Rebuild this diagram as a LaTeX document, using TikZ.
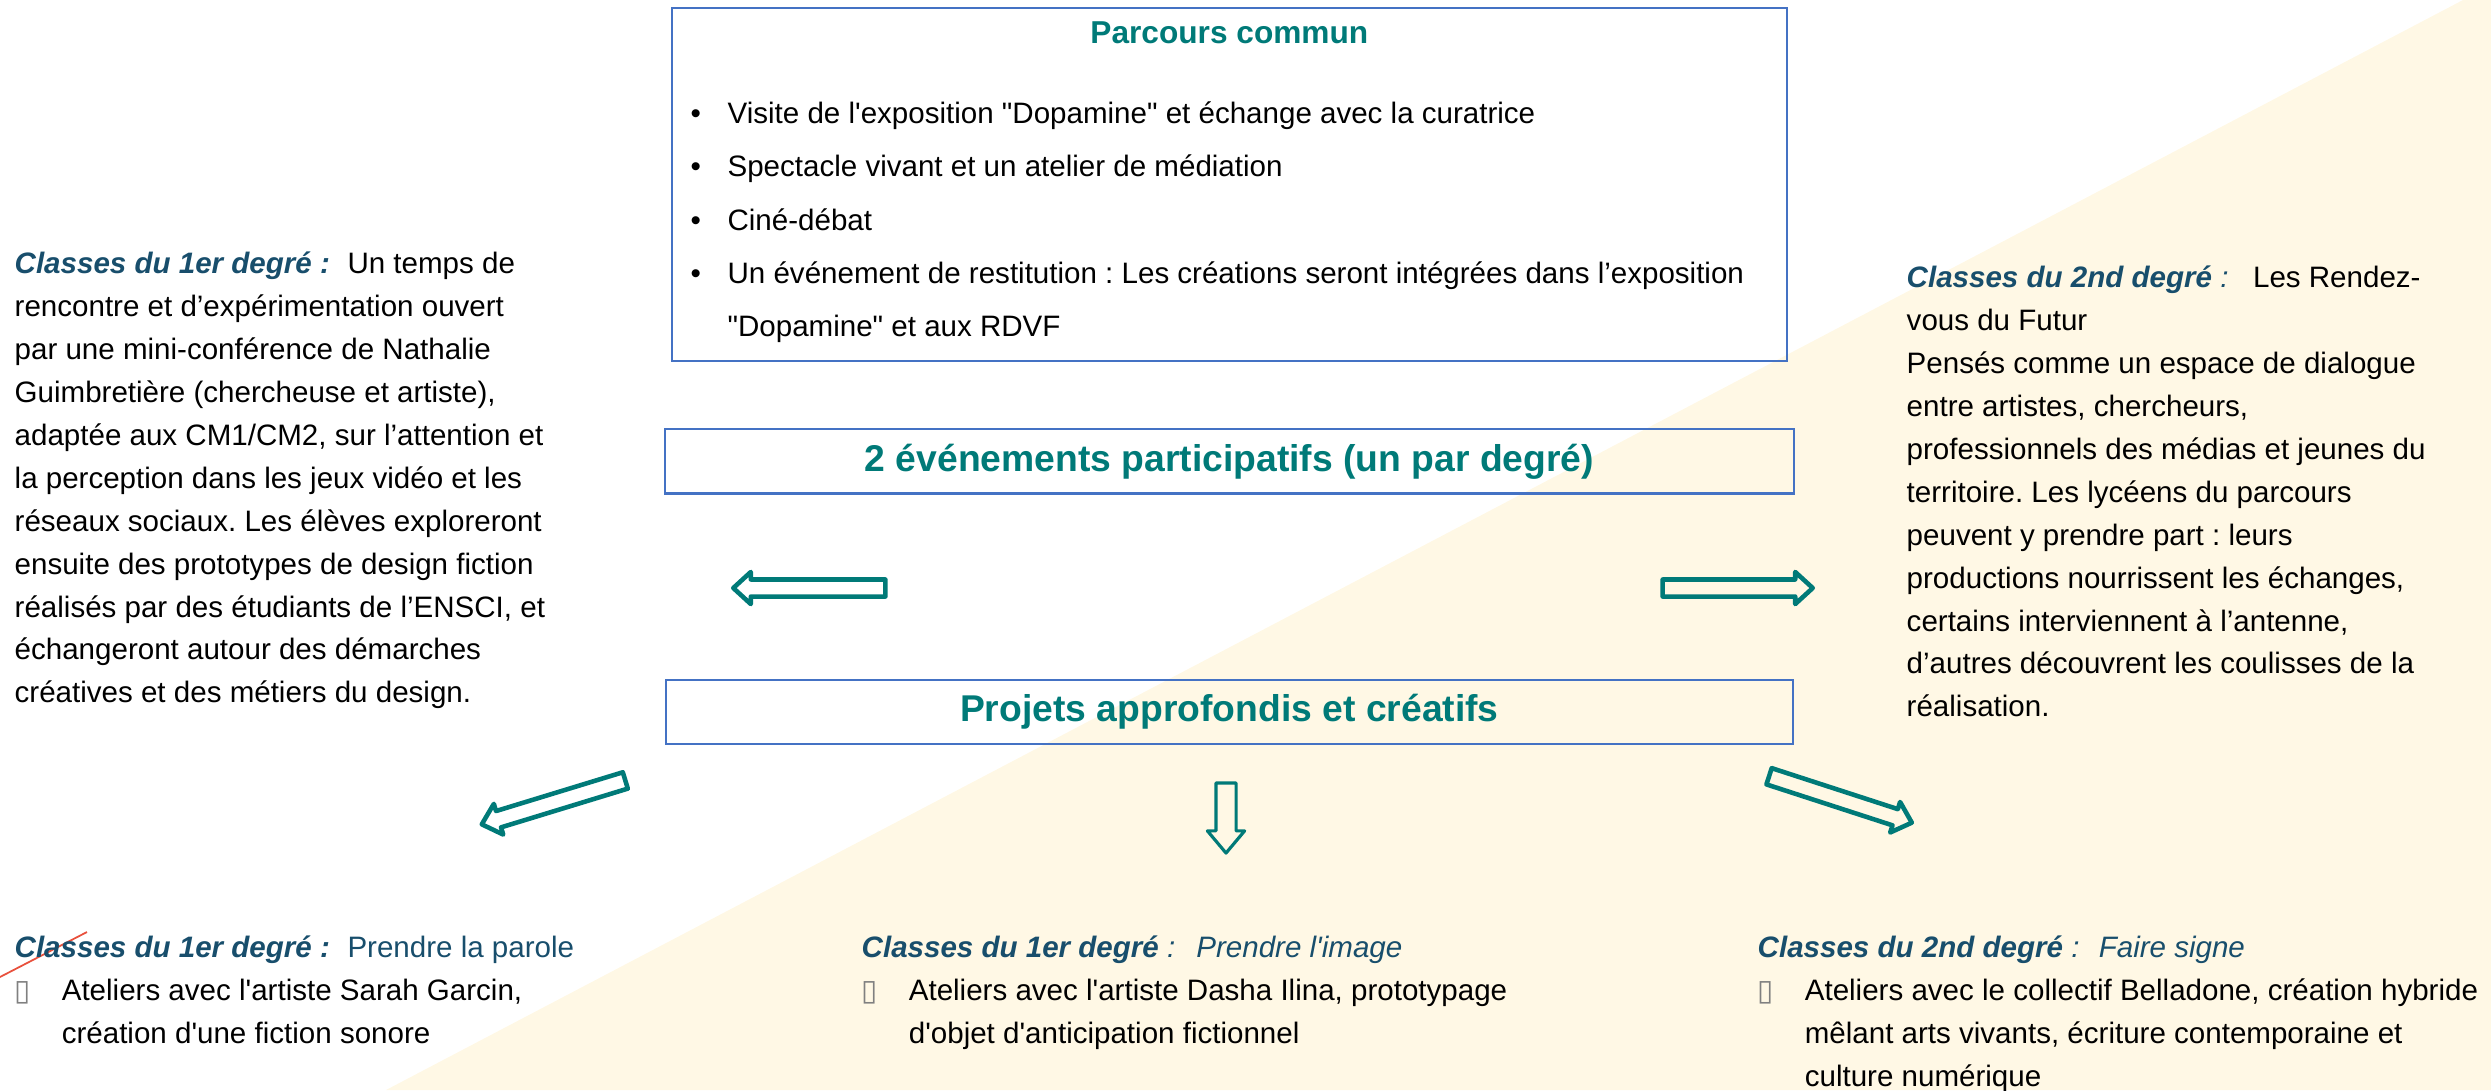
\documentclass[tikz,border=0pt]{standalone}
\usepackage{fontspec}
\setmainfont{Liberation Sans}[Ligatures=TeXOff]
\newfontfamily\glyphfont{DejaVu Sans}
\usepackage{xcolor}
\usetikzlibrary{shapes.arrows, positioning, calc}
\definecolor{titleteal}{RGB}{0,122,120}
\definecolor{headblue}{RGB}{24,78,108}
\definecolor{frameblue}{RGB}{68,114,196}
\definecolor{cream}{RGB}{255,248,229}
\definecolor{slipred}{RGB}{232,80,60}
\frenchspacing
\newcommand{\bodyfont}{\fontsize{8.4}{12.2}\selectfont}
\newcommand{\firstline}{\rule{0pt}{8pt}}
\newcommand{\tofu}{\makebox[13.4pt][l]{\glyphfont\color{gray}\char"25AF}}
\newcommand{\puce}{\makebox[10.5pt][l]{\textbullet}}
\tikzset{
  panel/.style = {rectangle, draw=frameblue, line width=0.6pt},
  paneltitle/.style = {font=\fontsize{10.6}{12}\selectfont\bfseries, text=titleteal},
  textblock/.style = {anchor=north west, inner sep=0pt, align=left, font=\bodyfont},
  fatarrow/.style = {single arrow, draw=titleteal, line width=1.3pt, line join=round,
    inner xsep=0pt, inner ysep=0.0625cm, single arrow head extend=0.075cm,
    single arrow tip angle=85, minimum height=#1}
}

\begin{document}
\begin{tikzpicture}[x=0.01cm, y=-0.01cm]
	\useasboundingbox (0,0) rectangle (2491,1090);
	\fill[cream] (2463,0) -- (2491,0) -- (2491,1090) -- (386,1090) -- cycle;
	
	% middle column
	\node[panel, minimum width=11.14cm, minimum height=3.53cm, anchor=north west] (parcours) at (671,7) {};
	\node[paneltitle, font=\fontsize{9}{11}\selectfont\bfseries, anchor=base] (parcourstitle)
		at ($(parcours.north)+(0,36)$) {Parcours commun};
	\node[textblock, font=\fontsize{8.4}{15.1}\selectfont] (parcourslist) at (690,95) {
		\firstline\puce Visite de l'exposition "Dopamine" et échange avec la curatrice\\
		\puce Spectacle vivant et un atelier de médiation\\
		\puce Ciné-débat\\
		\puce Un événement de restitution : Les créations seront intégrées dans l’exposition\\
		\hspace*{10.5pt}"Dopamine" et aux RDVF
	};
	
	\node[panel, paneltitle, minimum width=11.28cm, minimum height=0.64cm, below=0.66cm of parcours] (events)
		{2 événements participatifs (un par degré)};
	\node[panel, paneltitle, minimum width=11.27cm, minimum height=0.64cm, below=1.84cm of events] (projets)
		{Projets approfondis et créatifs};
	
	% block arrows
	\node[fatarrow=1.52cm, rotate=180] (toprimary) at (814,588) {};
	\node[fatarrow=1.50cm] (tosecondary) at (1733,588) {};
	\node[fatarrow=1.50cm, rotate=197] (toparole) at (558,801) {};
	\node[fatarrow=0.70cm, rotate=-90, line width=0.9pt, inner ysep=0.085cm,
		single arrow head extend=0.085cm, single arrow tip angle=80] (toimage) at (1226,812) {};
	\node[fatarrow=1.50cm, rotate=-18] (tosigne) at (1836,798) {};
	
	% side texts
	\node[textblock] (primaire) at (14,245) {
		\firstline{\color{headblue}\bfseries\itshape Classes du 1er degré :}\hspace{5pt}Un temps de\\
		rencontre et d’expérimentation ouvert\\
		par une mini-conférence de Nathalie\\
		Guimbretière (chercheuse et artiste),\\
		adaptée aux CM1/CM2, sur l’attention et\\
		la perception dans les jeux vidéo et les\\
		réseaux sociaux. Les élèves exploreront\\
		ensuite des prototypes de design fiction\\
		réalisés par des étudiants de l’ENSCI, et\\
		échangeront autour des démarches\\
		créatives et des métiers du design.
	};
	\node[textblock] (secondaire) at (1906,259) {
		\firstline{\color{headblue}\bfseries\itshape Classes du 2nd degré}{\color{headblue}\itshape\ :}\hspace{7pt}Les Rendez-\\
		vous du Futur\\
		Pensés comme un espace de dialogue\\
		entre artistes, chercheurs,\\
		professionnels des médias et jeunes du\\
		territoire. Les lycéens du parcours\\
		peuvent y prendre part : leurs\\
		productions nourrissent les échanges,\\
		certains interviennent à l’antenne,\\
		d’autres découvrent les coulisses de la\\
		réalisation.
	};
	
	% bottom projects
	\draw[slipred, line width=0.5pt] (0,977) -- (87,932);
	\node[textblock] (parole) at (14,929) {
		\firstline{\color{headblue}\bfseries\itshape Classes du 1er degré :}\hspace{5pt}{\color{headblue}Prendre la parole}\\
		\tofu Ateliers avec l'artiste Sarah Garcin,\\
		\hspace*{13.4pt}création d'une fiction sonore
	};
	\node[textblock] (image) at (861,929) {
		\firstline{\color{headblue}\bfseries\itshape Classes du 1er degré}{\color{headblue}\itshape\ :}\hspace{6pt}{\color{headblue}\itshape Prendre l'image}\\
		\tofu Ateliers avec l'artiste Dasha Ilina, prototypage\\
		\hspace*{13.4pt}d'objet d'anticipation fictionnel
	};
	\node[textblock] (signe) at (1757,929) {
		\firstline{\color{headblue}\bfseries\itshape Classes du 2nd degré}{\color{headblue}\itshape\ :}\hspace{5.5pt}{\color{headblue}\itshape Faire signe}\\
		\tofu Ateliers avec le collectif Belladone, création hybride\\
		\hspace*{13.4pt}mêlant arts vivants, écriture contemporaine et\\
		\hspace*{13.4pt}culture numérique
	};
\end{tikzpicture}
\end{document}
